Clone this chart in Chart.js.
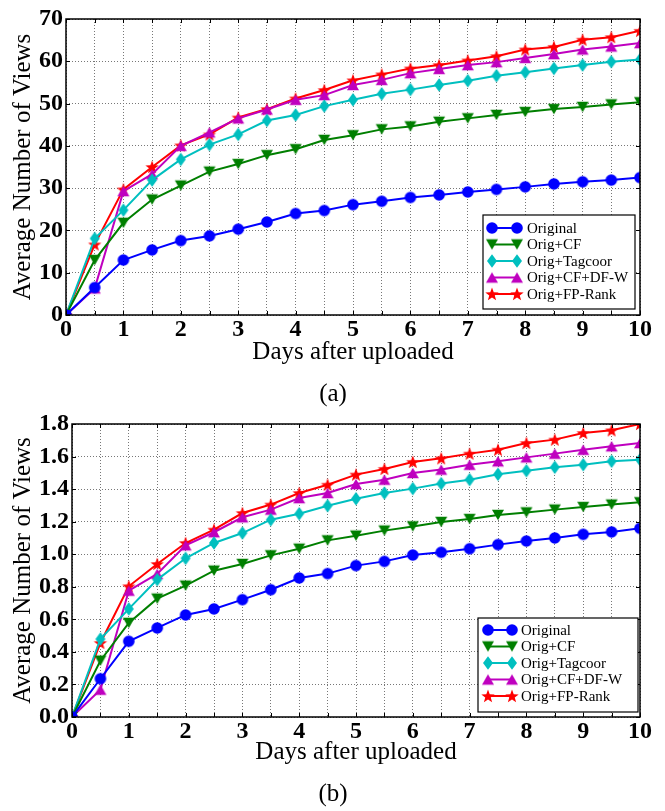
<!DOCTYPE html>
<html><head><meta charset="utf-8">
<script src="https://cdn.jsdelivr.net/npm/chart.js@4/dist/chart.umd.min.js"></script>
<style>
html,body{margin:0;padding:0;background:#fff;overflow:hidden;}
#ca{position:absolute;left:0;top:0;}
#cb{position:absolute;left:0;top:411px;}
</style></head><body>
<canvas id="ca" width="665" height="411"></canvas>
<canvas id="cb" width="665" height="400"></canvas>
<script>
// ---- data ----
const days = [0,0.5,1,1.5,2,2.5,3,3.5,4,4.5,5,5.5,6,6.5,7,7.5,8,8.5,9,9.5,10];
const seriesNames = ['Original','Orig+CF','Orig+Tagcoor','Orig+CF+DF-W','Orig+FP-Rank'];
const xTickLabels = ['0','1','2','3','4','5','6','7','8','9','10'];

const a_original = [0,6.5,13.0,15.4,17.6,18.7,20.3,22.0,24.0,24.7,26.1,26.9,27.8,28.4,29.1,29.7,30.3,31.0,31.5,31.9,32.5];
const a_cf       = [0,13.0,21.8,27.3,30.6,33.9,35.7,37.8,39.2,41.4,42.5,43.9,44.6,45.7,46.5,47.3,48.0,48.7,49.2,49.8,50.3];
const a_tagcoor  = [0,18.1,24.8,31.9,36.8,40.3,42.7,46.0,47.3,49.4,50.9,52.3,53.3,54.4,55.4,56.6,57.4,58.3,59.1,59.9,60.4];
const a_cfdfw    = [0,6.3,29.3,33.3,40.0,43.2,46.5,48.6,50.9,52.0,54.4,55.6,57.2,58.2,59.1,59.8,60.8,61.7,62.8,63.5,64.3];
const a_fprank   = [0,16.7,29.7,35.0,40.1,42.7,46.7,48.7,51.2,53.2,55.5,56.9,58.3,59.1,60.2,61.2,62.8,63.4,65.1,65.7,67.2];
const a_yTicks   = ['0','10','20','30','40','50','60','70'];

const b_original = [0,0.235,0.465,0.547,0.627,0.664,0.721,0.782,0.854,0.881,0.930,0.956,0.995,1.012,1.034,1.059,1.081,1.100,1.122,1.137,1.159];
const b_cf       = [0,0.346,0.578,0.727,0.807,0.899,0.940,0.993,1.034,1.085,1.114,1.145,1.171,1.198,1.216,1.241,1.257,1.274,1.290,1.305,1.319];
const b_tagcoor  = [0,0.479,0.664,0.844,0.975,1.069,1.130,1.212,1.249,1.298,1.341,1.376,1.403,1.434,1.458,1.491,1.513,1.534,1.550,1.571,1.581];
const b_cfdfw    = [0,0.168,0.776,0.879,1.055,1.135,1.227,1.274,1.345,1.376,1.431,1.458,1.499,1.520,1.550,1.571,1.595,1.618,1.642,1.663,1.683];
const b_fprank   = [0,0.455,0.803,0.940,1.069,1.151,1.253,1.305,1.376,1.427,1.489,1.524,1.567,1.589,1.618,1.642,1.683,1.704,1.745,1.761,1.800];
const b_yTicks   = ['0.0','0.2','0.4','0.6','0.8','1.0','1.2','1.4','1.6','1.8'];

// ---- styling ----
const colors = ['#0000ff','#007f00','#00bfbf','#bf00bf','#ff0000'];
const shapes = ['circle','tdown','diamond','tup','star'];
const SERIF = '"Liberation Serif", "Times New Roman", serif';

function makeMarker(shape, color){
  const c = document.createElement('canvas');
  c.width = 16; c.height = 16;
  const g = c.getContext('2d');
  const cx = 8, cy = 8;
  g.fillStyle = color;
  g.beginPath();
  if (shape === 'circle') { g.arc(cx, cy, 5.8, 0, Math.PI*2); }
  else if (shape === 'tdown') { g.moveTo(cx-6, cy-5.2); g.lineTo(cx+6, cy-5.2); g.lineTo(cx, cy+5.2); }
  else if (shape === 'tup') { g.moveTo(cx-6, cy+5.2); g.lineTo(cx+6, cy+5.2); g.lineTo(cx, cy-5.2); }
  else if (shape === 'diamond') { g.moveTo(cx, cy-6.8); g.lineTo(cx+5, cy); g.lineTo(cx, cy+6.8); g.lineTo(cx-5, cy); }
  else if (shape === 'star') {
    for (let i = 0; i < 10; i++) {
      const r = (i % 2 === 0) ? 7 : 2.9;
      const ang = -Math.PI/2 + i*Math.PI/5;
      const px = cx + r*Math.cos(ang), py = cy + r*Math.sin(ang) + 0.6;
      if (i === 0) g.moveTo(px, py); else g.lineTo(px, py);
    }
  }
  g.closePath();
  g.fill();
  return c;
}
const markers = shapes.map((s,i)=>makeMarker(s, colors[i]));

function buildDatasets(arrays){
  return arrays.map((arr, i) => ({
    label: seriesNames[i],
    data: arr.map((v, k) => ({x: days[k], y: v})),
    borderColor: colors[i],
    backgroundColor: colors[i],
    borderWidth: 2,
    pointStyle: markers[i],
    pointRadius: 5,
    pointHoverRadius: 5,
    tension: 0,
    fill: false
  }));
}

const framePlugin = {
  id: 'frameLegendCaption',
  afterDraw(chart, args, o){
    const ctx = chart.ctx;
    const {left, top, right, bottom} = chart.chartArea;
    ctx.save();
    // inward tick marks at every grid line, all four sides
    ctx.strokeStyle = '#000';
    ctx.lineWidth = 1;
    const xs = chart.scales.x, ys = chart.scales.y;
    ctx.beginPath();
    xs.ticks.forEach(t => {
      const px = Math.round(xs.getPixelForValue(t.value)) + 0.5;
      ctx.moveTo(px, bottom); ctx.lineTo(px, bottom - 4);
      ctx.moveTo(px, top); ctx.lineTo(px, top + 4);
    });
    ys.ticks.forEach(t => {
      const py = Math.round(ys.getPixelForValue(t.value)) + 0.5;
      ctx.moveTo(left, py); ctx.lineTo(left + 4, py);
      ctx.moveTo(right, py); ctx.lineTo(right - 4, py);
    });
    ctx.stroke();
    ctx.lineWidth = 1.5;
    ctx.strokeRect(left, top, right-left, bottom-top);
    // legend
    const L = o.legend;
    ctx.fillStyle = '#fff';
    ctx.fillRect(L.x, L.y, L.w, L.h);
    ctx.lineWidth = 1.2;
    ctx.strokeStyle = '#000';
    ctx.strokeRect(L.x, L.y, L.w, L.h);
    chart.data.datasets.forEach((ds, i) => {
      const y = L.y0 + i*L.dy;
      ctx.strokeStyle = ds.borderColor;
      ctx.lineWidth = 2;
      ctx.beginPath(); ctx.moveTo(L.lx1, y); ctx.lineTo(L.lx2, y); ctx.stroke();
      const m = markers[i];
      ctx.drawImage(m, L.lx1 - m.width/2, y - m.height/2);
      ctx.drawImage(m, L.lx2 - m.width/2, y - m.height/2);
      ctx.fillStyle = '#000';
      ctx.font = '15px ' + SERIF;
      ctx.textAlign = 'left';
      ctx.textBaseline = 'middle';
      ctx.fillText(ds.label, L.tx, y + 1);
    });
    // caption
    ctx.fillStyle = '#000';
    ctx.font = '25px ' + SERIF;
    ctx.textAlign = 'center';
    ctx.textBaseline = 'alphabetic';
    ctx.fillText(o.caption, o.cx, o.cy);
    ctx.restore();
  }
};

function makeChart(id, arrays, yMax, yStep, yLabels, lay){
  return new Chart(document.getElementById(id), {
    type: 'line',
    data: { datasets: buildDatasets(arrays) },
    plugins: [framePlugin],
    options: {
      responsive: false,
      animation: false,
      devicePixelRatio: 1,
      layout: { padding: { left: 0, top: lay.top, right: 25, bottom: 0 } },
      plugins: {
        legend: { display: false },
        tooltip: { enabled: false },
        frameLegendCaption: { legend: lay.legend, caption: lay.caption, cx: 333, cy: lay.capY }
      },
      scales: {
        x: {
          type: 'linear', min: 0, max: 10,
          grid: { color: '#777', lineWidth: 1, drawTicks: false },
          border: { display: false, dash: [1, 2] },
          ticks: {
            stepSize: 0.5, autoSkip: false, maxRotation: 0, padding: 0,
            color: '#000',
            font: { family: SERIF, size: 24, weight: 'bold' },
            callback: v => Number.isInteger(v) ? xTickLabels[v] : ''
          },
          title: { display: true, text: 'Days after uploaded', color: '#000',
                   font: { family: SERIF, size: 25 }, padding: { top: 0, bottom: 44 } },
          afterFit: s => { s.height = lay.xH; s.paddingLeft = 0; s.paddingRight = 0; }
        },
        y: {
          min: 0, max: yMax,
          grid: { color: '#777', lineWidth: 1, drawTicks: false },
          border: { display: false, dash: [1, 2] },
          ticks: {
            stepSize: yStep, padding: 3, color: '#000',
            font: { family: SERIF, size: 24, weight: 'bold' },
            callback: (v, i) => yLabels[Math.round(v / yStep)]
          },
          title: { display: true, text: 'Average Number of Views', color: '#000',
                   font: { family: SERIF, size: 25 }, padding: { top: 8, bottom: 0 } },
          afterFit: s => { s.width = lay.yW; s.paddingTop = 0; s.paddingBottom = 0; }
        }
      }
    }
  });
}

makeChart('ca', [a_original, a_cf, a_tagcoor, a_cfdfw, a_fprank], 70, 10, a_yTicks, {
  top: 19, xH: 96, yW: 66, caption: '(a)', capY: 401,
  legend: { x: 483, y: 215, w: 152, h: 94, y0: 228, dy: 16.5, lx1: 492, lx2: 517, tx: 527 }
});
makeChart('cb', [b_original, b_cf, b_tagcoor, b_cfdfw, b_fprank], 1.8, 0.2, b_yTicks, {
  top: 13, xH: 94, yW: 72, caption: '(b)', capY: 390,
  legend: { x: 478, y: 207, w: 160, h: 94, y0: 219, dy: 16.5, lx1: 488, lx2: 512, tx: 521 }
});
</script>
</body></html>
